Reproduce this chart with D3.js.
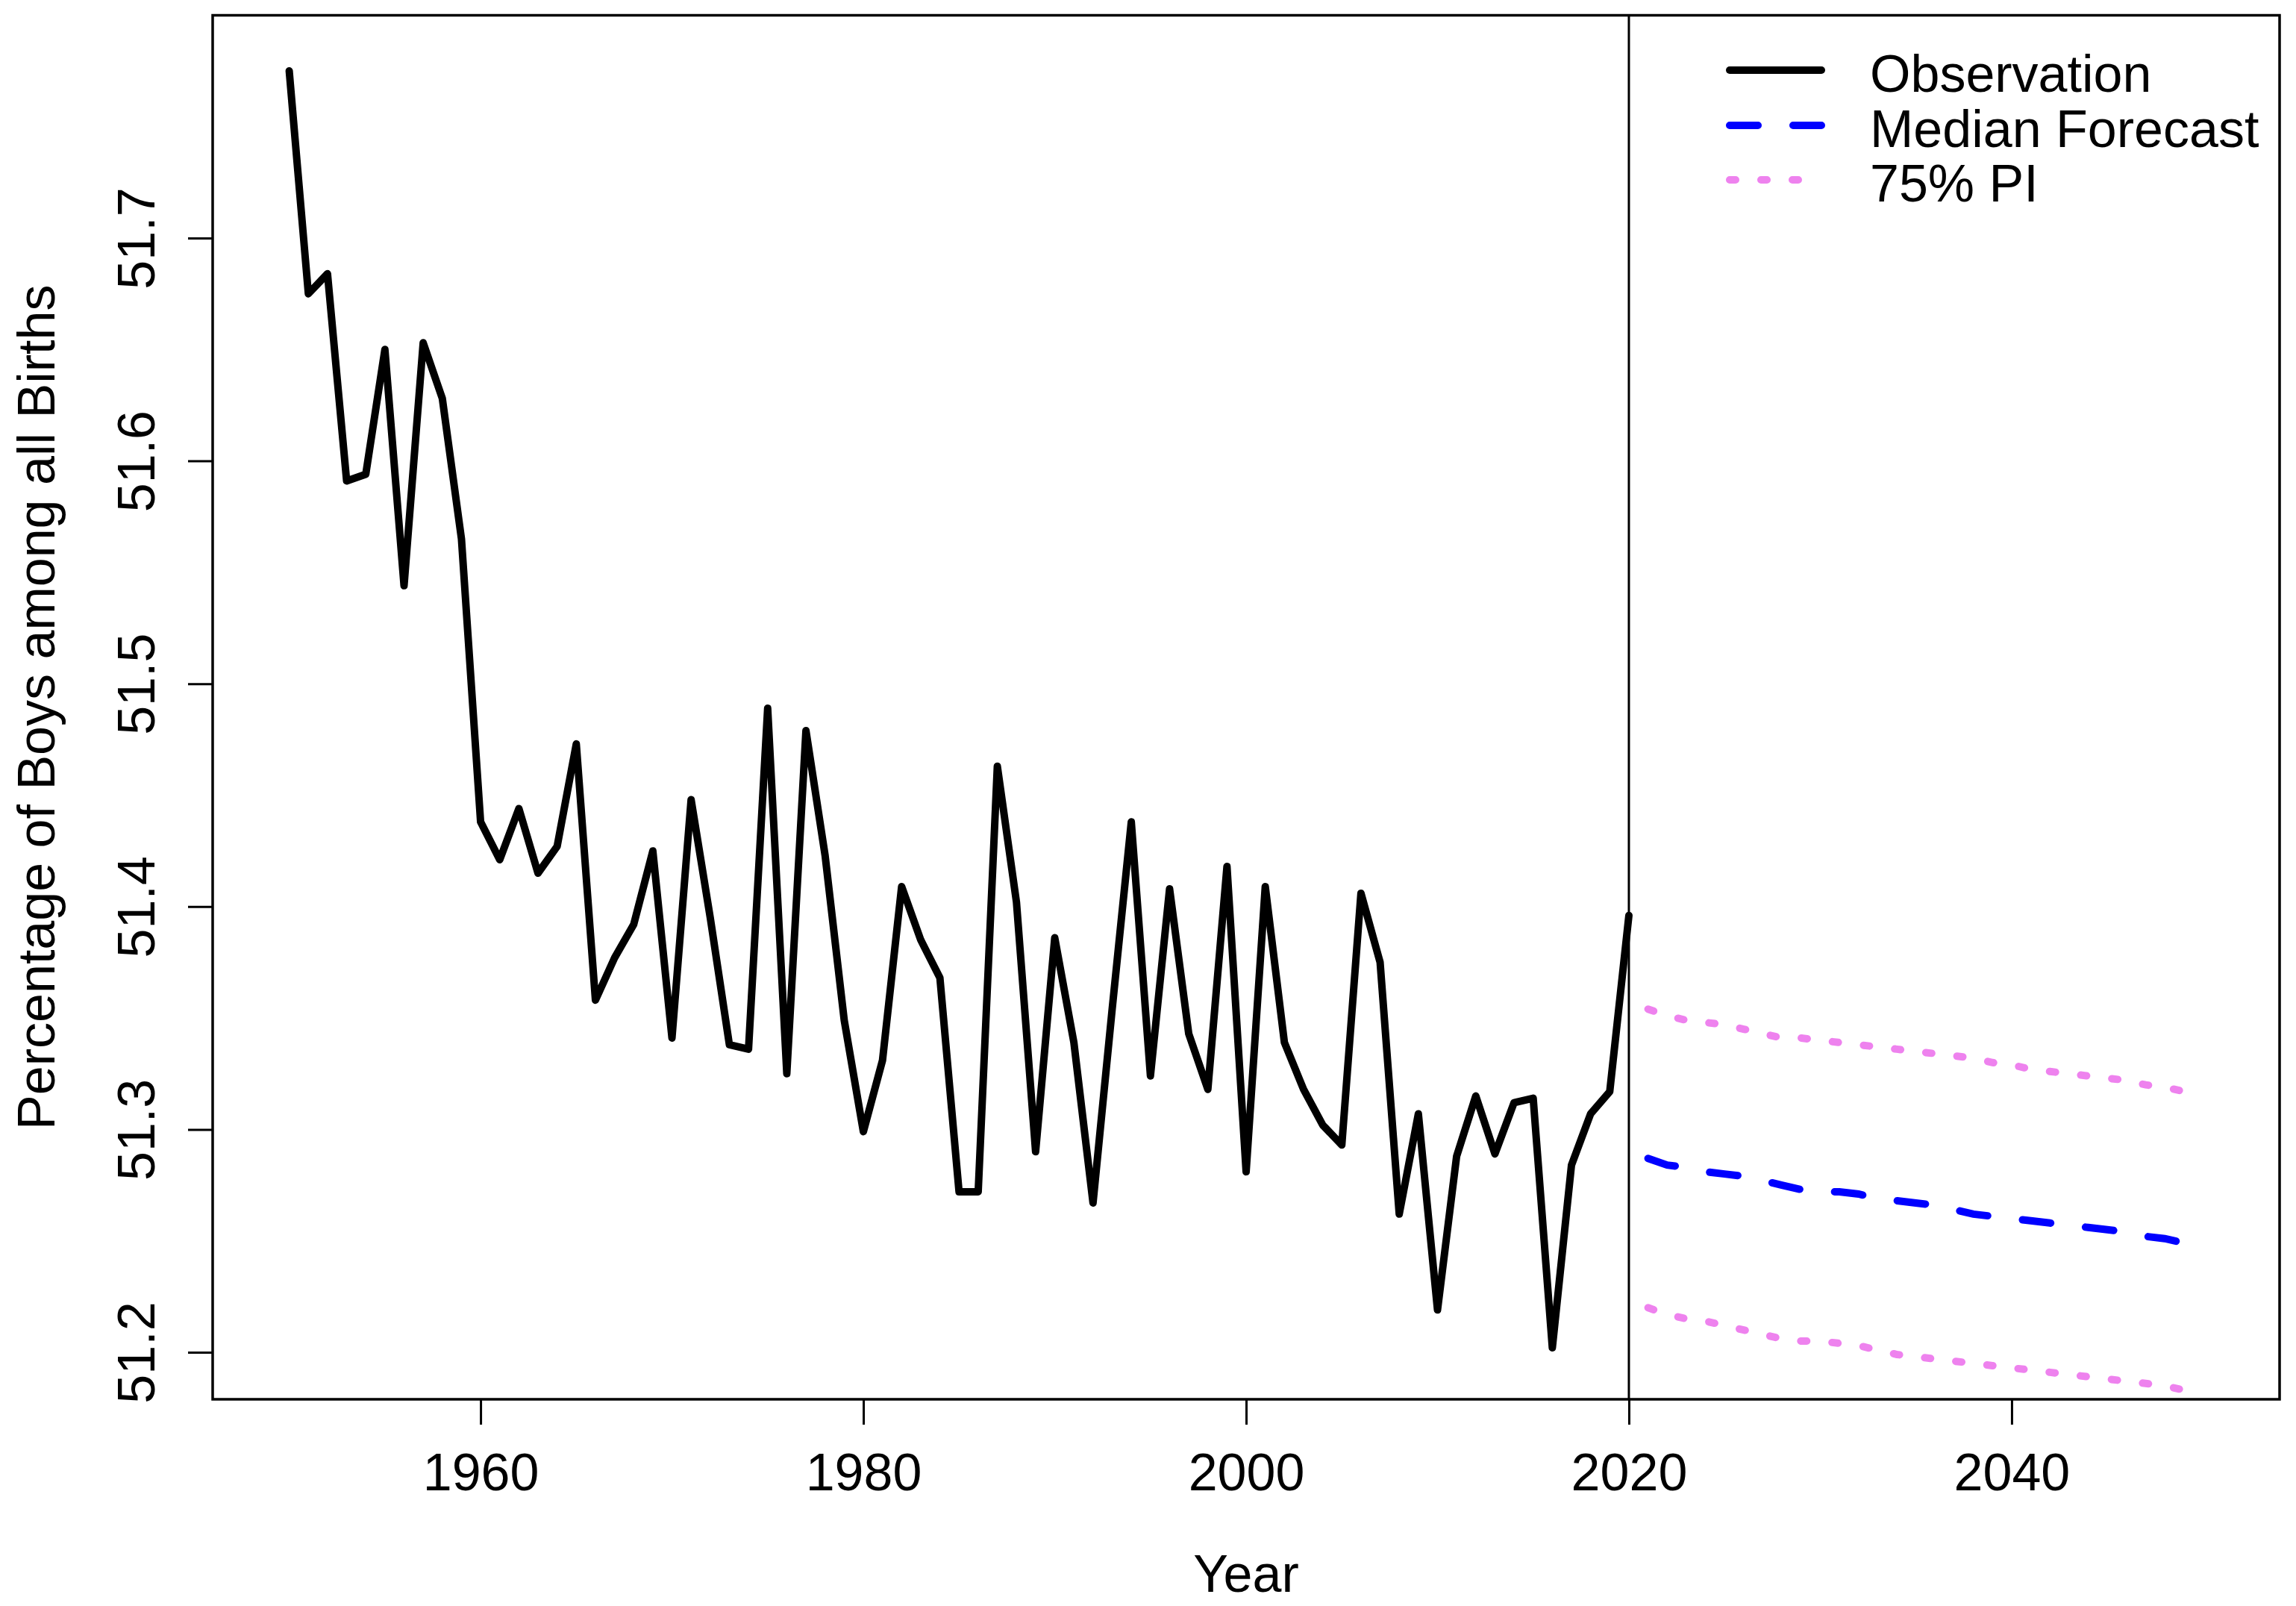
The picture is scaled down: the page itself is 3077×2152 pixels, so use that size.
<!DOCTYPE html>
<html>
<head>
<meta charset="utf-8">
<script src="https://cdn.jsdelivr.net/npm/d3@7"></script>
<style>
  html, body { margin: 0; padding: 0; background: #ffffff; }
  svg { display: block; }
  text { font-family: "Liberation Sans", Arial, sans-serif; fill: #000; }
</style>
</head>
<body>
<script>
// ---------------- DATA ----------------
const obsYears = d3.range(1950, 2021);
const obsValues = [
  51.775, 51.675, 51.684, 51.591, 51.594, 51.650, 51.544, 51.653, 51.628, 51.565,
  51.438, 51.421, 51.444, 51.415, 51.427, 51.473, 51.358, 51.377, 51.392, 51.425,
  51.341, 51.448, 51.395, 51.338, 51.336, 51.489, 51.325, 51.479, 51.423, 51.349,
  51.299, 51.331, 51.409, 51.385, 51.368, 51.272, 51.272, 51.463, 51.402, 51.290,
  51.386, 51.339, 51.267, 51.354, 51.438, 51.324, 51.408, 51.343, 51.318, 51.418,
  51.281, 51.409, 51.339, 51.318, 51.302, 51.293, 51.406, 51.375, 51.262, 51.307,
  51.219, 51.288, 51.315, 51.289, 51.312, 51.314, 51.202, 51.284, 51.307, 51.317,
  51.396
];
const fcYears = d3.range(2021, 2051);
const medianValues = [
  51.287, 51.284, 51.283, 51.281, 51.280, 51.279, 51.277, 51.275, 51.273, 51.272,
  51.272, 51.271, 51.269, 51.268, 51.267, 51.266, 51.264, 51.262, 51.261, 51.260,
  51.259, 51.258, 51.257, 51.256, 51.255, 51.254, 51.252, 51.251, 51.249, 51.247
];
const upperValues = [
  51.354, 51.351, 51.349, 51.348, 51.347, 51.345, 51.343, 51.341, 51.341, 51.340,
  51.339, 51.338, 51.337, 51.336, 51.335, 51.334, 51.333, 51.332, 51.330, 51.329,
  51.327, 51.326, 51.325, 51.324, 51.323, 51.322, 51.320, 51.319, 51.317, 51.315
];
const lowerValues = [
  51.220, 51.217, 51.215, 51.214, 51.212, 51.210, 51.208, 51.206, 51.205, 51.205,
  51.204, 51.203, 51.201, 51.199, 51.198, 51.197, 51.196, 51.195, 51.194, 51.193,
  51.192, 51.191, 51.190, 51.189, 51.188, 51.187, 51.186, 51.185, 51.183, 51.180
];
const xTicks = [1960, 1980, 2000, 2020, 2040];
const yTicks = [51.2, 51.3, 51.4, 51.5, 51.6, 51.7];
const forecastStart = 2020;
const legendLabels = ["Observation", "Median Forecast", "75% PI"];
const xTitle = "Year";
const yTitle = "Percentage of Boys among all Births";

// ---------------- LAYOUT ----------------
const W = 3077, H = 2152;
const L = 285, R = 3055, T = 20.5, B = 1875;
const FS = 70;

const svg = d3.select("body").append("svg")
  .attr("width", W).attr("height", H)
  .attr("viewBox", `0 0 ${W} ${H}`);
svg.append("rect").attr("width", W).attr("height", H).attr("fill", "#fff");

const x = d3.scaleLinear().domain([1946, 2054]).range([L, R]);
const y = d3.scaleLinear().domain([51.2, 51.7]).range([1812, 319]);

const defs = svg.append("defs");
defs.append("clipPath").attr("id", "plotclip")
  .append("rect").attr("x", L).attr("y", T).attr("width", R - L).attr("height", B - T);

const plot = svg.append("g").attr("clip-path", "url(#plotclip)");

const line = d3.line().x(d => x(d[0])).y(d => y(d[1]));

// forecast start vertical line
plot.append("line")
  .attr("x1", x(forecastStart)).attr("x2", x(forecastStart))
  .attr("y1", T).attr("y2", B)
  .attr("stroke", "#000").attr("stroke-width", 3);

// observation
plot.append("path")
  .datum(obsYears.map((yr, i) => [yr, obsValues[i]]))
  .attr("d", line)
  .attr("fill", "none").attr("stroke", "#000")
  .attr("stroke-width", 10).attr("stroke-linejoin", "round").attr("stroke-linecap", "round");

// PI bounds
[upperValues, lowerValues].forEach(vals => {
  plot.append("path")
    .datum(fcYears.map((yr, i) => [yr, vals[i]]))
    .attr("d", line)
    .attr("fill", "none").attr("stroke", "violet")
    .attr("stroke-width", 10).attr("stroke-linecap", "round")
    .attr("stroke-dasharray", "8 34");
});

// median
plot.append("path")
  .datum(fcYears.map((yr, i) => [yr, medianValues[i]]))
  .attr("d", line)
  .attr("fill", "none").attr("stroke", "blue")
  .attr("stroke-width", 10).attr("stroke-linecap", "round")
  .attr("stroke-dasharray", "38 47");

// box
svg.append("rect")
  .attr("x", L).attr("y", T).attr("width", R - L).attr("height", B - T)
  .attr("fill", "none").attr("stroke", "#000").attr("stroke-width", 3.5);

// x axis
const xAxis = svg.append("g").attr("transform", `translate(0,${B})`)
  .call(d3.axisBottom(x).tickValues(xTicks).tickFormat(d3.format("d")).tickSize(34).tickSizeOuter(0));
xAxis.select(".domain").remove();
xAxis.selectAll(".tick line").attr("stroke", "#000").attr("stroke-width", 3);
xAxis.selectAll(".tick text")
  .attr("y", 122).attr("dy", 0)
  .attr("font-size", FS).attr("font-family", "Liberation Sans, Arial, sans-serif");

// y axis
const yAxis = svg.append("g").attr("transform", `translate(${L},0)`)
  .call(d3.axisLeft(y).tickValues(yTicks).tickFormat(d3.format(".1f")).tickSize(33).tickSizeOuter(0));
yAxis.select(".domain").remove();
yAxis.selectAll(".tick line").attr("stroke", "#000").attr("stroke-width", 3);
yAxis.selectAll(".tick text")
  .attr("x", 0).attr("y", -78).attr("dy", 0)
  .attr("transform", "rotate(-90)")
  .attr("text-anchor", "middle")
  .attr("font-size", FS).attr("font-family", "Liberation Sans, Arial, sans-serif");

// titles
svg.append("text")
  .attr("x", (L + R) / 2).attr("y", 2133)
  .attr("text-anchor", "middle").attr("font-size", FS)
  .text(xTitle);
svg.append("text")
  .attr("transform", `translate(73,${(T + B) / 2}) rotate(-90)`)
  .attr("text-anchor", "middle").attr("font-size", FS)
  .text(yTitle);

// legend
const legX1 = 2318, legX2 = 2441, legTextX = 2506;
const legRows = [
  { label: legendLabels[0], color: "#000", dash: null, y: 99 },
  { label: legendLabels[1], color: "blue", dash: "38 47", y: 173 },
  { label: legendLabels[2], color: "violet", dash: "8 34", y: 246 }
];
const leg = svg.append("g");
legRows.forEach(r => {
  const ln = leg.append("line")
    .attr("x1", legX1).attr("x2", legX2)
    .attr("y1", r.y - 5).attr("y2", r.y - 5)
    .attr("stroke", r.color).attr("stroke-width", 10)
    .attr("stroke-linecap", "round");
  if (r.dash) ln.attr("stroke-dasharray", r.dash);
  leg.append("text")
    .attr("x", legTextX).attr("y", r.y + 24)
    .attr("font-size", FS)
    .text(r.label);
});
</script>
</body>
</html>
